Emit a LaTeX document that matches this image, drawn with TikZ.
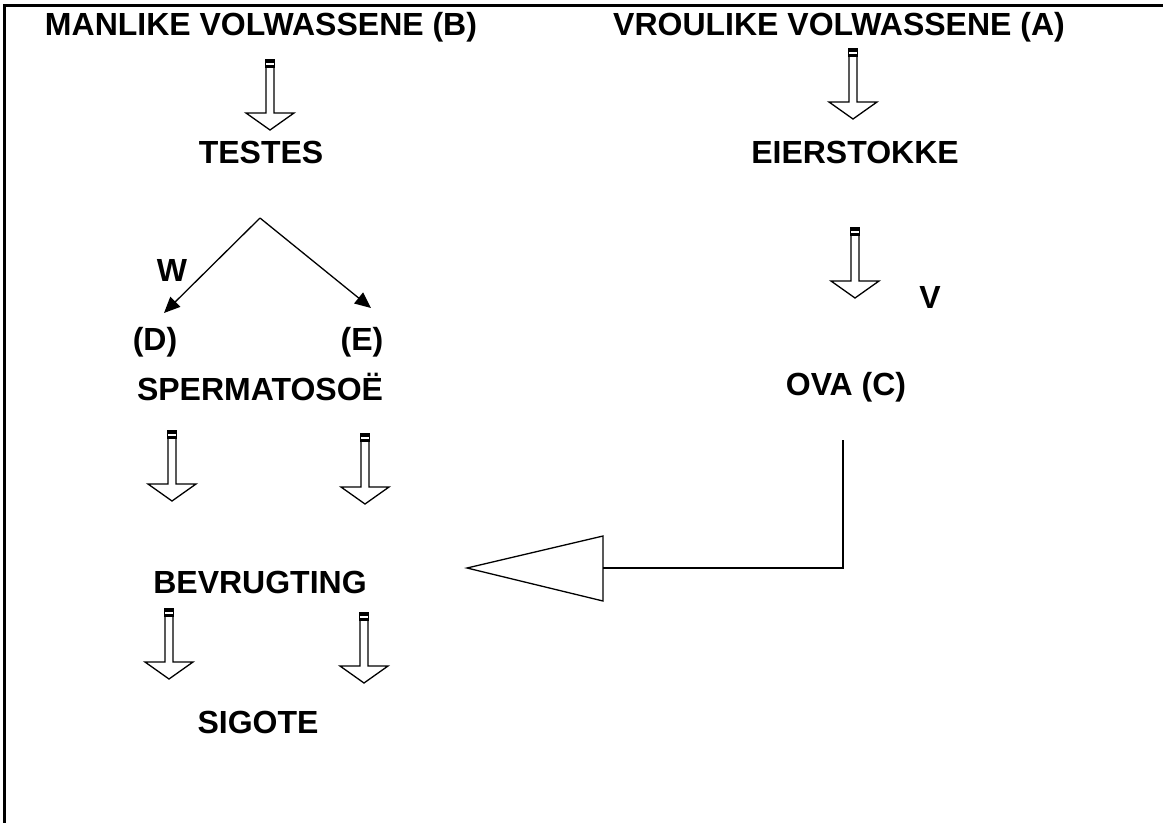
\documentclass[tikz,border=0pt]{standalone}
\usepackage{fontspec}
\setmainfont{Liberation Sans}
\usetikzlibrary{arrows.meta}
\tikzset{
  lbl/.style={font=\fontsize{32}{37}\selectfont\bfseries, inner sep=0pt, anchor=center},
  thinline/.style={line width=1.3pt, draw=black},
  blockarr/.pic={
    \fill (-5,0) rectangle (5,3.5);
    \fill (-5,5.5) rectangle (5,9);
    \fill (-5,0) rectangle (-4,9);
    \fill (4,0) rectangle (5,9);
    \draw[line width=1.3pt, line join=miter] (-4,9) -- (-4,54) -- (-24,54) -- (0,71) -- (24,54) -- (4,54) -- (4,9);
  }
}
\begin{document}
\begin{tikzpicture}[x=1pt,y=-1pt]
\useasboundingbox (0,0) rectangle (1163,823);
% frame
\draw[line width=3pt] (1163,5) -- (4,5) -- (4,823);
% texts
\node[lbl] (tl) at (261,27) {MANLIKE VOLWASSENE (B)};
\node[lbl] (tr) at (839,27) {VROULIKE VOLWASSENE (A)};
\node[lbl] (testes) at (261,152) {TESTES};
\node[lbl] (eier) at (855,152) {EIERSTOKKE};
\node[lbl] (w) at (172,270) {W};
\node[lbl] (v) at (930,297) {V};
\node[lbl] (d) at (155,342) {(D)};
\node[lbl] (e) at (362,342) {(E)};
\node[lbl] (sperm) at (260,387) {SPERMATOSOË};
\node[lbl] (ova) at (846,387) {OVA (C)};
\node[lbl] (bev) at (260,582) {BEVRUGTING};
\node[lbl] (sig) at (258,722) {SIGOTE};
% block arrows
\pic at (270,59) {blockarr};
\pic at (853,48) {blockarr};
\pic at (855,227) {blockarr};
\pic at (172,430) {blockarr};
\pic at (365,433) {blockarr};
\pic at (169,608) {blockarr};
\pic at (364,612) {blockarr};
% branching arrows
\coordinate (apex) at (260,218);
\coordinate (dtip) at (164,313);
\coordinate (etip) at (371,308);
\draw[thinline, -{Triangle[length=16pt,width=14pt]}] (apex) -- (dtip);
\draw[thinline, -{Triangle[length=16pt,width=14pt]}] (apex) -- (etip);
% big arrow from OVA to BEVRUGTING
\coordinate (ovadown) at (843,440);
\coordinate (corner) at (843,568);
\coordinate (tribase) at (603,568);
\draw[thinline] (ovadown) -- (corner) -- (tribase);
\draw[thinline, line join=miter] (603,536) -- (603,601) -- (467,568) -- cycle;
\end{tikzpicture}
\end{document}
